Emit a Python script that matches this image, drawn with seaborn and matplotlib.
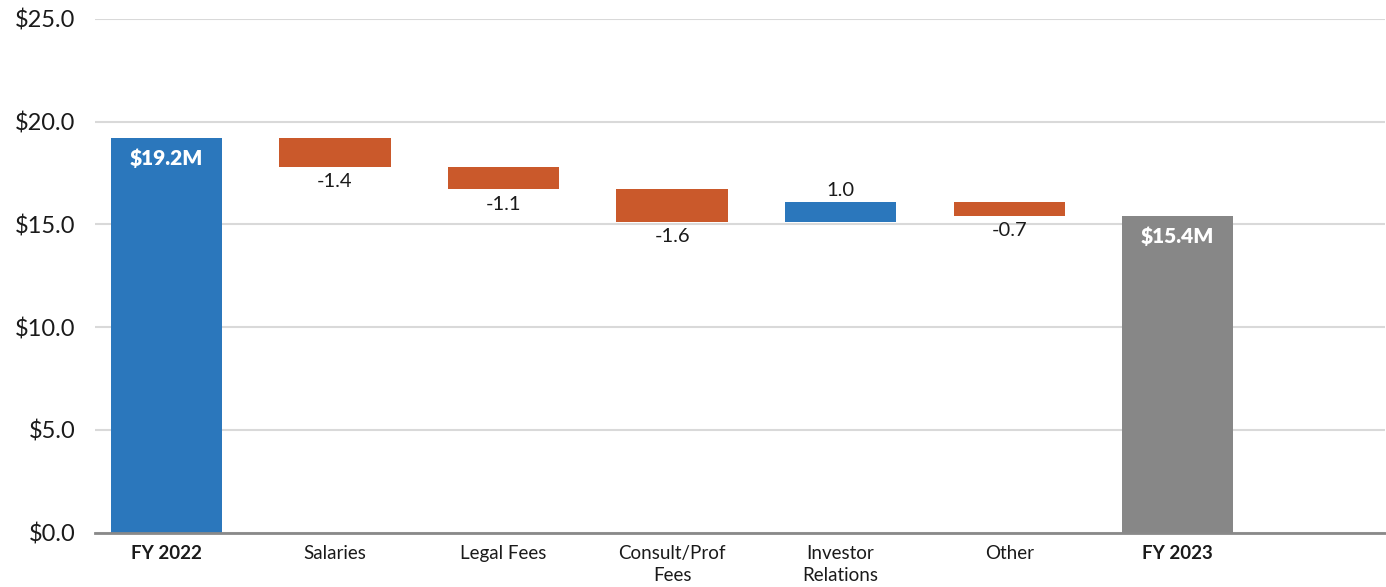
import numpy as np
import pandas as pd
import matplotlib
matplotlib.use("Agg")
import matplotlib.pyplot as plt
import seaborn as sns

# Operating expense bridge, $M
categories = ["FY 2022", "Salaries", "Legal Fees", "Consult/Prof\nFees",
              "Investor\nRelations", "Other", "FY 2023"]
changes = [19.2, -1.4, -1.1, -1.6, 1.0, -0.7, 15.4]
kinds = ["total", "delta", "delta", "delta", "delta", "delta", "total"]
y_ticks = [0, 5, 10, 15, 20, 25]

BLUE = "#2B77BC"
ORANGE = "#CA592B"
GRAY = "#878787"

# floating bar geometry from the running total
bottoms, heights, colors = [], [], []
running = 0.0
for i, (v, k) in enumerate(zip(changes, kinds)):
    if k == "total":
        bottoms.append(0.0)
        heights.append(v)
        colors.append(BLUE if i == 0 else GRAY)
        running = v
    else:
        start = running
        running = running + v
        bottoms.append(min(start, running))
        heights.append(abs(v))
        colors.append(BLUE if v > 0 else ORANGE)

df = pd.DataFrame({"category": categories, "height": heights, "bottom": bottoms})

sns.set_theme(style="white")
plt.rcParams["font.family"] = ["Lato", "DejaVu Sans"]

fig = plt.figure(figsize=(13.86, 5.87), dpi=100)
ax = fig.add_axes([95 / 1386, (587 - 532.7) / 587, 1290 / 1386, (532.7 - 18.7) / 587])

sns.barplot(data=df, x="category", y="height", bottom=df["bottom"].values,
            order=categories, width=0.66, ax=ax, errorbar=None,
            color=BLUE, saturation=1, zorder=3)
for patch, c in zip(ax.patches, colors):
    patch.set_facecolor(c)
    patch.set_edgecolor("none")

# labels
for i, (v, k) in enumerate(zip(changes, kinds)):
    if k == "total":
        ax.text(i, v - 0.5, f"${v:.1f}M", ha="center", va="top", color="white",
                fontsize=15, fontweight="heavy", zorder=4)
    else:
        top = bottoms[i] + heights[i]
        if v > 0:
            ax.text(i, top + 0.12, f"{v:.1f}", ha="center", va="bottom",
                    fontsize=14.5, color="#1a1a1a", zorder=4)
        else:
            ax.text(i, bottoms[i] - 0.3, f"{v:.1f}", ha="center", va="top",
                    fontsize=14.5, color="#1a1a1a", zorder=4)

ax.set_xlim(-0.424, 7.23)
ax.set_ylim(0, 25)
ax.set_yticks(y_ticks)
ax.set_yticklabels([f"${t:.1f}" for t in y_ticks], fontsize=17, color="#1a1a1a")
ax.yaxis.grid(True, color="#d9d9d9", linewidth=1.5, zorder=0)
ax.set_axisbelow(True)
ax.tick_params(axis="y", length=0, pad=14)
ax.tick_params(axis="x", length=0, pad=9)
for lbl, k in zip(ax.get_xticklabels(), kinds):
    lbl.set_fontsize(13.5)
    lbl.set_color("#1a1a1a")
    lbl.set_linespacing(1.35)
    if k == "total":
        lbl.set_fontweight("bold")
ax.set_xlabel("")
ax.set_ylabel("")
for s in ["left", "right", "top"]:
    ax.spines[s].set_visible(False)
ax.spines["bottom"].set_color("#898989")
ax.spines["bottom"].set_linewidth(2)
ax.spines["bottom"].set_zorder(5)

fig.savefig("out.png", dpi=100, facecolor="white")
